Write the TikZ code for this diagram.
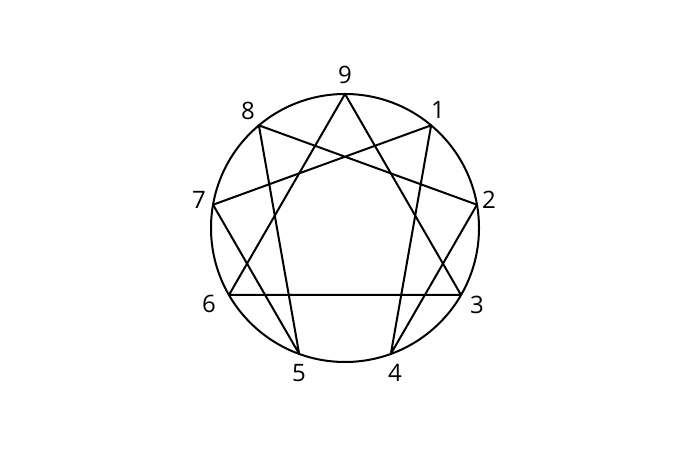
\documentclass[tikz,border=0pt]{standalone}
\usepackage{fontspec}
\setmainfont{Open Sans}
\usetikzlibrary{calc}
\begin{document}
\begin{tikzpicture}[x=1pt,y=1pt,line width=2pt,
    numlabel/.style={font=\fontsize{24}{24}\selectfont, inner sep=0pt}]
            \useasboundingbox (0,0) rectangle (685,457);
            \coordinate (c) at (345,229);

            \draw (c) circle (134);

            \foreach \n/\a in {9/90, 1/50, 2/10, 3/-30, 4/-70, 5/-110, 6/-150, 7/170, 8/130}
                \coordinate (p\n) at ($(c)+(\a:134)$);

            \foreach \n/\x/\y in {9/345/382, 1/438/347, 2/489/257, 3/477/152, 4/395/84, 5/299/84, 6/209/153, 7/199/257, 8/248/346}
                \node[numlabel] (l\n) at (\x,\y) {\n};

            \draw[line join=round] (p9) -- (p3) -- (p6) -- cycle;
            \draw[line join=round] (p1) -- (p4) -- (p2) -- (p8) -- (p5) -- (p7) -- cycle;
        \end{tikzpicture}
\end{document}
